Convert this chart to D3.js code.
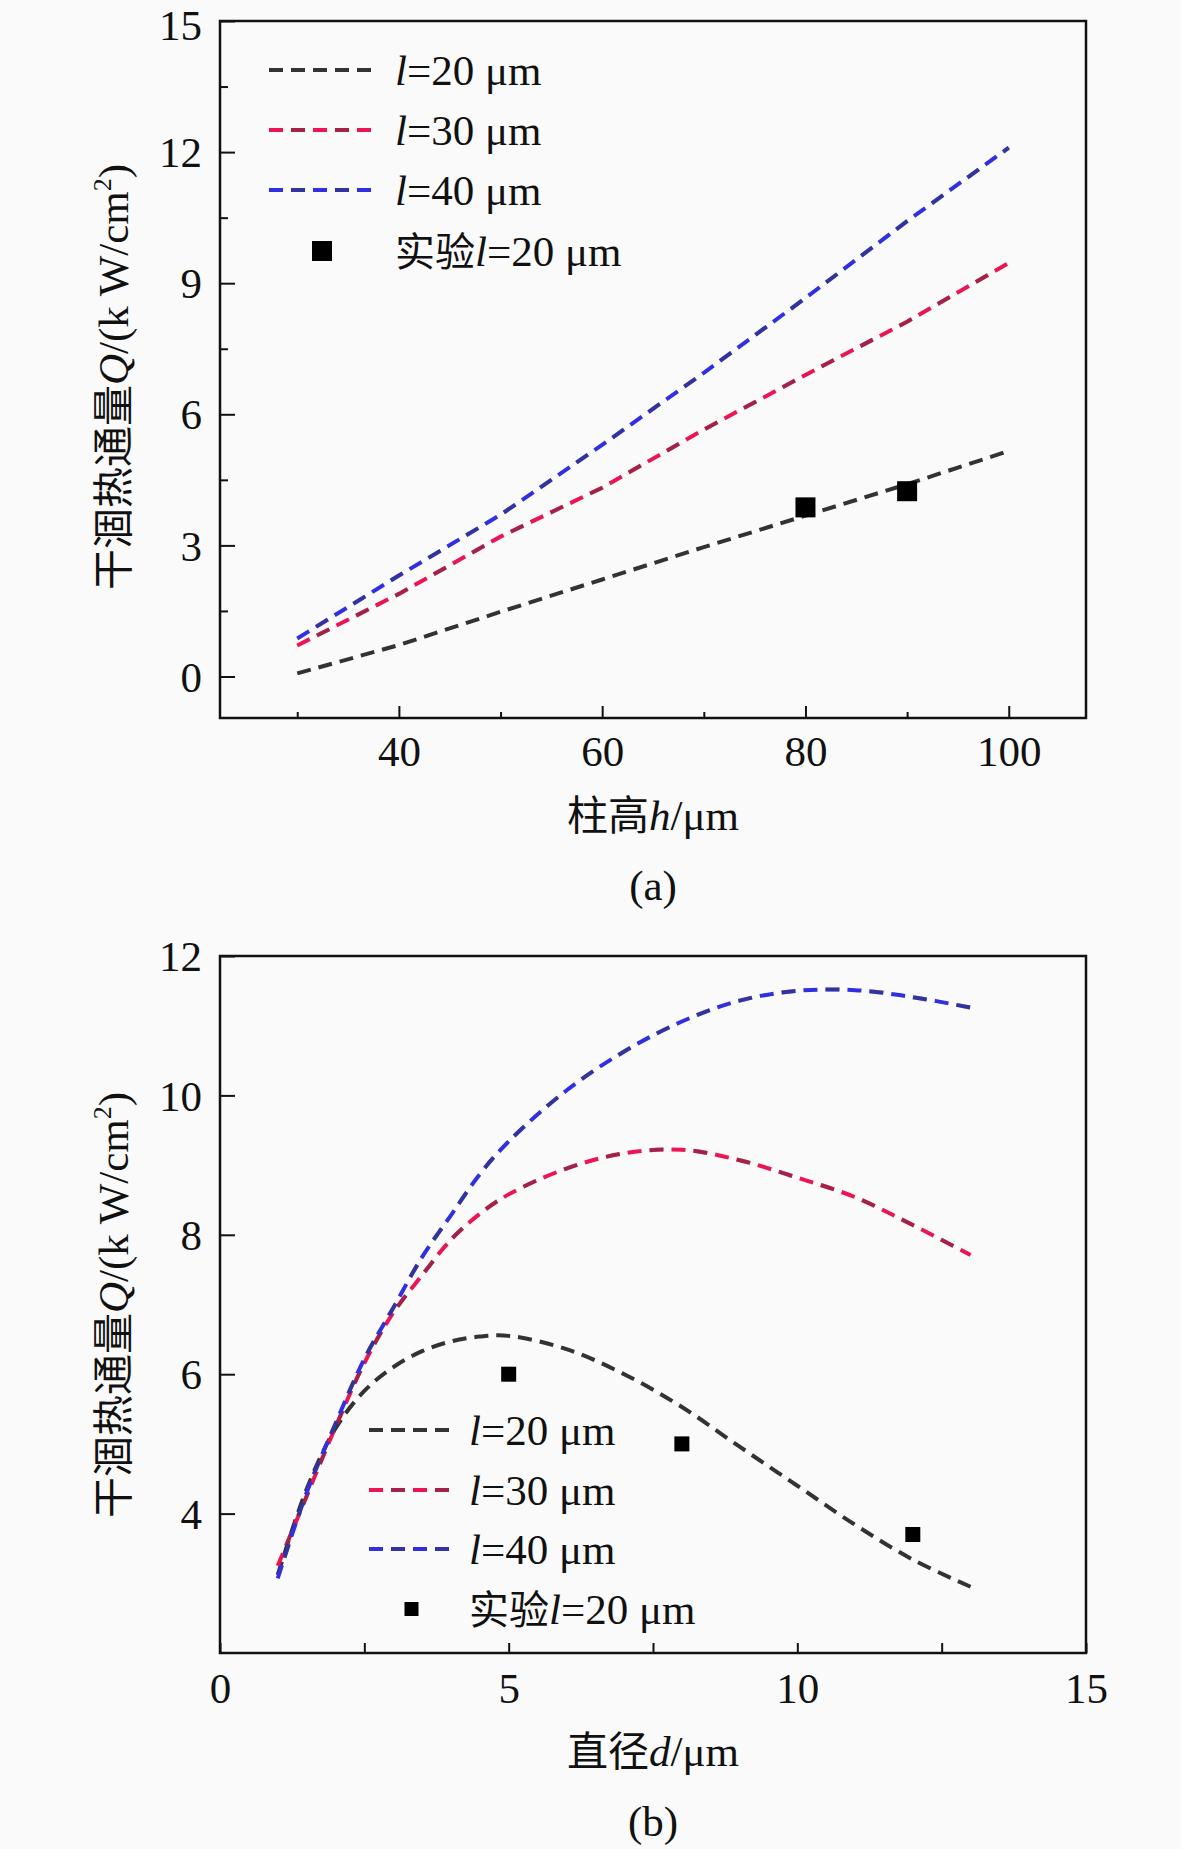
<!DOCTYPE html>
<html><head><meta charset="utf-8">
<script src="https://cdn.jsdelivr.net/npm/d3@7"></script>
<style>
html,body{margin:0;padding:0;background:#fafafa;}
text{font-family:"Liberation Serif","Times New Roman",serif;fill:#111;}
.cjk{font-family:"Noto Sans CJK SC",sans-serif;}
</style></head>
<body><svg id="c" width="1181" height="1849"></svg>
<script>
// ---------- data: panel (a) ----------
const hValues = [30, 40, 50, 60, 70, 80, 90, 100];
const qA_l20 = [0.07, 0.72, 1.48, 2.22, 2.96, 3.68, 4.40, 5.16];
const qA_l30 = [0.71, 1.89, 3.20, 4.32, 5.65, 6.90, 8.12, 9.46];
const qA_l40 = [0.87, 2.31, 3.70, 5.30, 6.95, 8.66, 10.42, 12.10];
const expA_h = [80, 90];
const expA_q = [3.87, 4.24];
const ticksAx = [40, 60, 80, 100];
const minorAx = [30, 50, 70, 90];
const ticksAy = [0, 3, 6, 9, 12, 15];
const minorAy = [1.5, 4.5, 7.5, 10.5, 13.5];

// ---------- data: panel (b) ----------
const dValues = [1, 1.5, 2, 2.5, 3, 3.5, 4, 4.5, 5, 6, 7, 8, 9, 10, 11, 12, 13];
const qB_l20 = [3.12, 4.35, 5.22, 5.76, 6.10, 6.33, 6.47, 6.54, 6.55, 6.36, 6.00, 5.53, 4.96, 4.40, 3.84, 3.34, 2.95];
const qB_l30 = [3.25, 4.25, 5.24, 6.16, 6.88, 7.42, 7.93, 8.30, 8.58, 8.95, 9.17, 9.22, 9.07, 8.82, 8.54, 8.14, 7.71];
const qB_l40 = [3.07, 4.30, 5.29, 6.22, 6.95, 7.68, 8.28, 8.87, 9.34, 10.07, 10.63, 11.06, 11.36, 11.50, 11.51, 11.41, 11.26];
const expB_d = [5, 8, 12];
const expB_q = [6.0, 5.0, 3.7];
const ticksBx = [0, 5, 10, 15];
const minorBx = [2.5, 7.5, 12.5];
const ticksBy = [4, 6, 8, 10, 12];

const seriesNums = ["20", "30", "40"];
const seriesColors = ["#333333", "#ea1552", "#3030e0"];
const dark = "#3a3a3a";
const FS = 43;
const SW = 4;

const svg = d3.select("#c");
svg.append("rect").attr("width",1181).attr("height",1849).attr("fill","#fafafa");

function panel(cfg){
  const x = d3.scaleLinear().domain(cfg.xDom).range([220, 1086]);
  const y = d3.scaleLinear().domain(cfg.yDom).range([cfg.bottom, cfg.top]);
  const g = svg.append("g");
  g.append("rect").attr("x",220).attr("y",cfg.top).attr("width",866).attr("height",cfg.bottom-cfg.top)
    .attr("fill","none").attr("stroke","#111").attr("stroke-width",2.5);
  const xa = g.append("g").attr("transform",`translate(0,${cfg.bottom})`)
    .call(d3.axisBottom(x).tickValues(cfg.xt).tickSize(-cfg.xMajor).tickFormat(d3.format("d")).tickPadding(cfg.xPad));
  xa.select(".domain").remove();
  xa.selectAll("line").attr("stroke","#111").attr("stroke-width",2);
  xa.selectAll("text").attr("font-size",FS).attr("font-family","Liberation Serif").attr("fill","#111").attr("dy","0.72em");
  const xm = g.append("g").attr("transform",`translate(0,${cfg.bottom})`)
    .call(d3.axisBottom(x).tickValues(cfg.xm).tickSize(-cfg.xMinor).tickFormat(""));
  xm.select(".domain").remove();
  xm.selectAll("line").attr("stroke","#111").attr("stroke-width",2);
  const ya = g.append("g").attr("transform","translate(220,0)")
    .call(d3.axisLeft(y).tickValues(cfg.yt).tickSize(-15).tickFormat(d3.format("d")).tickPadding(18));
  ya.select(".domain").remove();
  ya.selectAll("line").attr("stroke","#111").attr("stroke-width",2);
  ya.selectAll("text").attr("font-size",FS).attr("font-family","Liberation Serif").attr("fill","#111")
    .attr("dy", d => (y(d) < 30 ? "0.42em" : "0.34em"));
  if (cfg.ym){
    const ym = g.append("g").attr("transform","translate(220,0)")
      .call(d3.axisLeft(y).tickValues(cfg.ym).tickSize(-8).tickFormat(""));
    ym.select(".domain").remove();
    ym.selectAll("line").attr("stroke","#111").attr("stroke-width",2);
  }
  const line = d3.line().x(d=>x(d[0])).y(d=>y(d[1])).curve(cfg.curve);
  cfg.series.forEach((s,i)=>{
    const pts = cfg.xs.map((v,k)=>[v,s[k]]);
    g.append("path").attr("d",line(pts)).attr("fill","none").attr("stroke",seriesColors[i])
      .attr("stroke-width",SW).attr("stroke-dasharray","14,8");
    if(i>0){
      g.append("path").attr("d",line(pts)).attr("fill","none").attr("stroke",dark).attr("stroke-opacity",0.4)
        .attr("stroke-width",SW).attr("stroke-dasharray","14,30").attr("stroke-dashoffset",-22);
    }
  });
  cfg.ex.forEach((v,k)=>{
    const s = cfg.mSize;
    g.append("rect").attr("x",x(v)-s/2).attr("y",y(cfg.ey[k])-s/2).attr("width",s).attr("height",s).attr("fill","#000");
  });
  const L = cfg.leg;
  seriesNums.forEach((n,i)=>{
    const yy = L.rows[i];
    g.append("line").attr("x1",L.x1).attr("x2",L.x2).attr("y1",yy).attr("y2",yy)
      .attr("stroke",seriesColors[i]).attr("stroke-width",SW).attr("stroke-dasharray","14,8");
    if(i>0) g.append("line").attr("x1",L.x1).attr("x2",L.x2).attr("y1",yy).attr("y2",yy)
      .attr("stroke",dark).attr("stroke-opacity",0.4).attr("stroke-width",SW).attr("stroke-dasharray","14,30").attr("stroke-dashoffset",-22);
    const t = g.append("text").attr("x",L.tx).attr("y",yy+15).attr("font-size",FS);
    t.append("tspan").attr("font-style","italic").text("l");
    t.append("tspan").text("=" + n + " μm");
  });
  const ym4 = L.rows[3];
  g.append("rect").attr("x",(L.x1+L.x2)/2-L.ms/2).attr("y",ym4-L.ms/2).attr("width",L.ms).attr("height",L.ms).attr("fill","#000");
  const t4 = g.append("text").attr("x",L.tx).attr("y",ym4+15).attr("font-size",FS);
  t4.append("tspan").attr("class","cjk").attr("font-size",40).text("实验");
  t4.append("tspan").attr("font-style","italic").text("l");
  t4.append("tspan").text("=20 μm");
  const xt = g.append("text").attr("x",653).attr("y",cfg.bottom+cfg.titleOff).attr("text-anchor","middle").attr("font-size",FS);
  xt.append("tspan").attr("class","cjk").attr("font-size",41).text(cfg.xLabelCN);
  xt.append("tspan").attr("font-style","italic").text(cfg.xLabelVar);
  xt.append("tspan").text("/μm");
  g.append("text").attr("x",653).attr("y",cfg.bottom+cfg.titleOff+70).attr("text-anchor","middle").attr("font-size",FS).text(cfg.tag);
  const cy = cfg.labelY;
  const yt = g.append("text").attr("transform",`translate(128,${cy}) rotate(-90)`).attr("text-anchor","middle").attr("font-size",FS);
  yt.append("tspan").attr("class","cjk").attr("font-size",41).text("干涸热通量");
  yt.append("tspan").attr("font-style","italic").text("Q");
  yt.append("tspan").text("/(k W/cm");
  yt.append("tspan").attr("font-size",26).attr("dy",-17).text("2");
  yt.append("tspan").attr("dy",17).text(")");
}

panel({xDom:[22.4,107.6], yDom:[-0.95,15], top:21, bottom:718,
  xt:ticksAx, xm:minorAx, yt:ticksAy, ym:minorAy, xMajor:12, xMinor:6, xPad:17, titleOff:112,
  xs:hValues, series:[qA_l20,qA_l30,qA_l40], curve:d3.curveLinear,
  ex:expA_h, ey:expA_q, mSize:20,
  leg:{x1:269,x2:375,tx:395,rows:[70,130,190,251],ms:20},
  xLabelCN:"柱高", xLabelVar:"h", tag:"(a)", labelY:377});

panel({xDom:[0,15], yDom:[2,12], top:956, bottom:1653,
  xt:ticksBx, xm:minorBx, yt:ticksBy, ym:null, xMajor:10, xMinor:10, xPad:19, titleOff:113,
  xs:dValues, series:[qB_l20,qB_l30,qB_l40], curve:d3.curveCatmullRom,
  ex:expB_d, ey:expB_q, mSize:15,
  leg:{x1:369,x2:454,tx:469,rows:[1430,1490,1549,1609],ms:14},
  xLabelCN:"直径", xLabelVar:"d", tag:"(b)", labelY:1305});
</script></body></html>
